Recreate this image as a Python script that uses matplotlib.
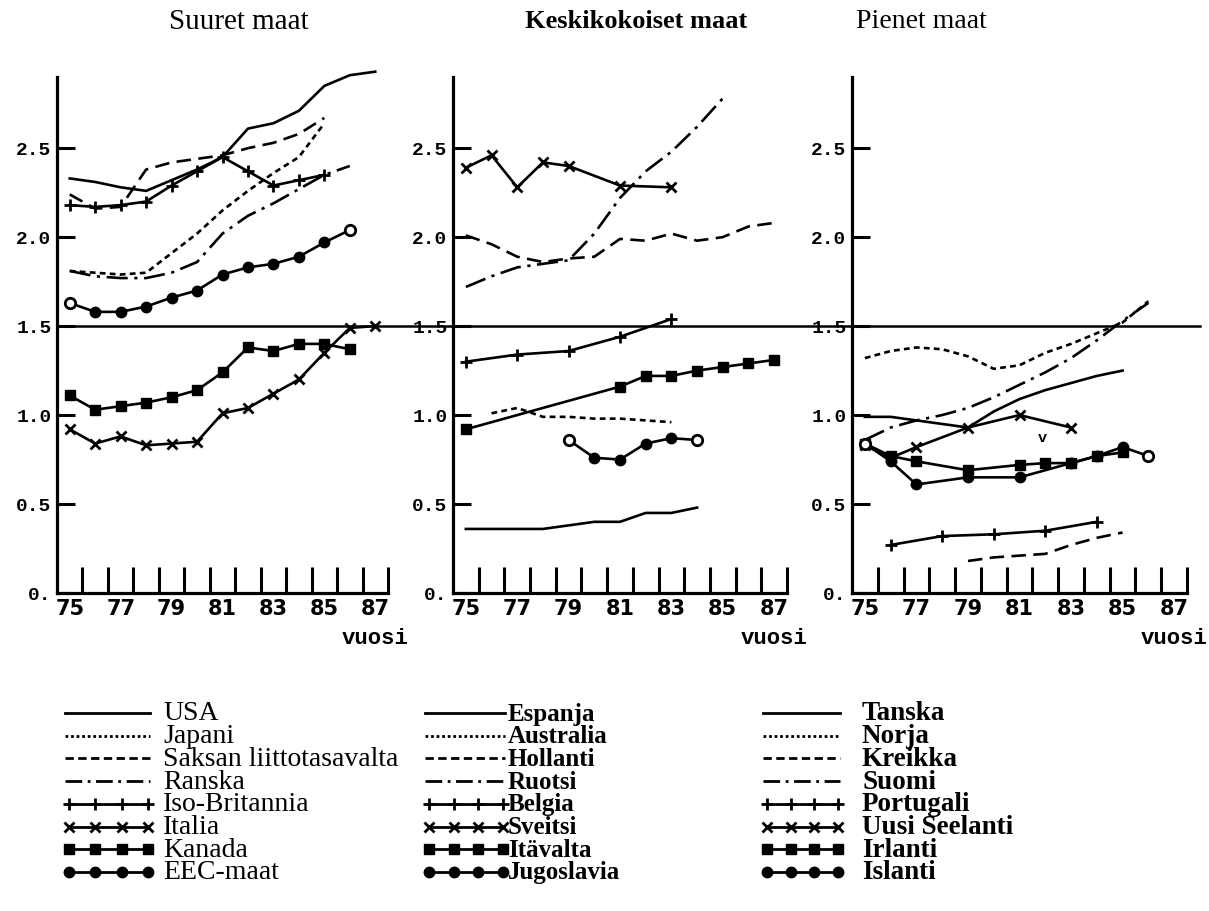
import matplotlib
matplotlib.use("Agg")
import matplotlib.pyplot as plt
import matplotlib.transforms as mtransforms
from matplotlib.lines import Line2D
import numpy as np

# ---------------- data ----------------
panel_titles = ["Suuret maat", "Keskikokoiset maat", "Pienet maat"]
x_tick_years = [75, 77, 79, 81, 83, 85, 87]
x_tick_labels = ["75", "77", "79", "81", "83", "85", "87"]
y_tick_vals = [0, 0.5, 1.0, 1.5, 2.0, 2.5]
y_tick_labels = ["0.", "0.5", "1.0", "1.5", "2.0", "2.5"]
x_label = "vuosi"

# Suuret maat
usa_x = [75, 76, 77, 78, 79, 80, 81, 82, 83, 84, 85, 86, 87]
usa_y = [2.33, 2.31, 2.28, 2.26, 2.32, 2.38, 2.45, 2.61, 2.64, 2.71, 2.85, 2.91, 2.93]
japani_x = [75, 76, 77, 78, 79, 80, 81, 82, 83, 84, 85]
japani_y = [1.81, 1.80, 1.79, 1.80, 1.91, 2.02, 2.15, 2.26, 2.36, 2.45, 2.64]
saksa_x = [75, 76, 77, 78, 79, 80, 81, 82, 83, 84, 85]
saksa_y = [2.24, 2.16, 2.17, 2.38, 2.42, 2.44, 2.46, 2.50, 2.53, 2.58, 2.67]
ranska_x = [75, 76, 77, 78, 79, 80, 81, 82, 83, 84, 85, 86]
ranska_y = [1.81, 1.78, 1.77, 1.77, 1.80, 1.86, 2.02, 2.12, 2.19, 2.27, 2.35, 2.40]
britannia_x = [75, 76, 77, 78, 79, 80, 81, 82, 83, 84, 85]
britannia_y = [2.18, 2.17, 2.18, 2.20, 2.29, 2.37, 2.45, 2.37, 2.29, 2.32, 2.35]
italia_x = [75, 76, 77, 78, 79, 80, 81, 82, 83, 84, 85, 86, 87]
italia_y = [0.92, 0.84, 0.88, 0.83, 0.84, 0.85, 1.01, 1.04, 1.12, 1.20, 1.35, 1.49, 1.50]
kanada_x = [75, 76, 77, 78, 79, 80, 81, 82, 83, 84, 85, 86]
kanada_y = [1.11, 1.03, 1.05, 1.07, 1.10, 1.14, 1.24, 1.38, 1.36, 1.40, 1.40, 1.37]
eec_x = [75, 76, 77, 78, 79, 80, 81, 82, 83, 84, 85, 86]
eec_y = [1.63, 1.58, 1.58, 1.61, 1.66, 1.70, 1.79, 1.83, 1.85, 1.89, 1.97, 2.04]

# Keskikokoiset maat
espanja_x = [75, 76, 77, 78, 79, 80, 81, 82, 83, 84]
espanja_y = [0.36, 0.36, 0.36, 0.36, 0.38, 0.40, 0.40, 0.45, 0.45, 0.48]
australia_x = [76, 77, 78, 79, 80, 81, 82, 83]
australia_y = [1.01, 1.04, 0.99, 0.99, 0.98, 0.98, 0.97, 0.96]
hollanti_x = [75, 76, 77, 78, 79, 80, 81, 82, 83, 84, 85, 86, 87]
hollanti_y = [2.01, 1.96, 1.89, 1.86, 1.88, 1.89, 1.99, 1.98, 2.02, 1.98, 2.00, 2.06, 2.08]
ruotsi_x = [75, 76, 77, 78, 79, 80, 81, 82, 83, 84, 85]
ruotsi_y = [1.72, 1.78, 1.83, 1.85, 1.87, 2.02, 2.22, 2.37, 2.48, 2.62, 2.78]
belgia_x = [75, 77, 79, 81, 83]
belgia_y = [1.30, 1.34, 1.36, 1.44, 1.54]
sveitsi_x = [75, 76, 77, 78, 79, 81, 83]
sveitsi_y = [2.39, 2.46, 2.28, 2.42, 2.40, 2.29, 2.28]
itavalta_x = [75, 81, 82, 83, 84, 85, 86, 87]
itavalta_y = [0.92, 1.16, 1.22, 1.22, 1.25, 1.27, 1.29, 1.31]
jugoslavia_x = [79, 80, 81, 82, 83, 84]
jugoslavia_y = [0.86, 0.76, 0.75, 0.84, 0.87, 0.86]

# Pienet maat
tanska_x = [75, 76, 77, 78, 79, 80, 81, 82, 83, 84, 85]
tanska_y = [0.99, 0.99, 0.97, 0.95, 0.93, 1.02, 1.09, 1.14, 1.18, 1.22, 1.25]
norja_x = [75, 76, 77, 78, 79, 80, 81, 82, 83, 84, 85, 86]
norja_y = [1.32, 1.36, 1.38, 1.37, 1.33, 1.26, 1.28, 1.35, 1.40, 1.46, 1.52, 1.64]
kreikka_x = [79, 80, 81, 82, 83, 84, 85]
kreikka_y = [0.18, 0.20, 0.21, 0.22, 0.27, 0.31, 0.34]
suomi_x = [75, 76, 77, 78, 79, 80, 81, 82, 83, 84, 85, 86]
suomi_y = [0.86, 0.93, 0.97, 1.00, 1.04, 1.10, 1.17, 1.24, 1.32, 1.42, 1.53, 1.63]
portugali_x = [76, 78, 80, 82, 84]
portugali_y = [0.27, 0.32, 0.33, 0.35, 0.40]
seelanti_x = [75, 76, 77, 79, 81, 83]
seelanti_y = [0.83, 0.76, 0.82, 0.93, 1.00, 0.93]
irlanti_x = [75, 76, 77, 79, 81, 82, 83, 84, 85]
irlanti_y = [0.84, 0.77, 0.74, 0.69, 0.72, 0.73, 0.73, 0.77, 0.79]
islanti_x = [75, 76, 77, 79, 81, 83, 84, 85, 86]
islanti_y = [0.84, 0.74, 0.61, 0.65, 0.65, 0.73, 0.77, 0.82, 0.77]

names_suuret = ["USA", "Japani", "Saksan liittotasavalta", "Ranska",
                "Iso-Britannia", "Italia", "Kanada", "EEC-maat"]
names_keski = ["Espanja", "Australia", "Hollanti", "Ruotsi",
               "Belgia", "Sveitsi", "Itävalta", "Jugoslavia"]
names_pienet = ["Tanska", "Norja", "Kreikka", "Suomi",
                "Portugali", "Uusi Seelanti", "Irlanti", "Islanti"]

series_suuret = [(usa_x, usa_y), (japani_x, japani_y), (saksa_x, saksa_y),
                 (ranska_x, ranska_y), (britannia_x, britannia_y),
                 (italia_x, italia_y), (kanada_x, kanada_y), (eec_x, eec_y)]
series_keski = [(espanja_x, espanja_y), (australia_x, australia_y),
                (hollanti_x, hollanti_y), (ruotsi_x, ruotsi_y),
                (belgia_x, belgia_y), (sveitsi_x, sveitsi_y),
                (itavalta_x, itavalta_y), (jugoslavia_x, jugoslavia_y)]
series_pienet = [(tanska_x, tanska_y), (norja_x, norja_y),
                 (kreikka_x, kreikka_y), (suomi_x, suomi_y),
                 (portugali_x, portugali_y), (seelanti_x, seelanti_y),
                 (irlanti_x, irlanti_y), (islanti_x, islanti_y)]

# ---------------- styles ----------------
LW = 1.9
style_list = [
    dict(linestyle="-"),
    dict(linestyle=(0, (2.2, 1.6))),
    dict(linestyle=(0, (5.5, 2.8))),
    dict(linestyle=(0, (8, 2.5, 1.2, 2.5))),
    dict(linestyle="-", marker="+", markersize=9, markeredgewidth=2.0),
    dict(linestyle="-", marker="x", markersize=7.5, markeredgewidth=2.0),
    dict(linestyle="-", marker="s", markersize=6.5),
    dict(linestyle="-", marker="o", markersize=7.5),
]
legend_dash = [None, (0, (1.0, 1.0)), (0, (3.0, 1.6)), (0, (6, 2.0, 1.0, 2.0)),
               None, None, None, None]

W, H = 1209, 911
fig = plt.figure(figsize=(W / 100, H / 100), dpi=100)
fig.patch.set_facecolor("white")

panel_px = [(57, 388), (453, 787), (852, 1187)]
bottom_px, top_px = 593, 77

mono_bold = dict(family=["Liberation Mono", "DejaVu Sans Mono"], weight="bold")
narrow_bold = dict(family=["Liberation Sans Narrow", "DejaVu Sans"], weight="bold")
serif = ["Liberation Serif", "DejaVu Serif"]

all_series = [series_suuret, series_keski, series_pienet]
axes = []
for i, (l, r) in enumerate(panel_px):
    ax = fig.add_axes([l / W, 1 - bottom_px / H, (r - l) / W, (bottom_px - top_px) / H])
    ax.set_facecolor("none")
    ax.set_xlim(74.5, 87.5)
    ax.set_ylim(0, 2.9)
    for s in ["top", "right"]:
        ax.spines[s].set_visible(False)
    for s in ["left", "bottom"]:
        ax.spines[s].set_linewidth(2.3)
    ax.set_yticks(y_tick_vals)
    ax.set_yticklabels(y_tick_labels, fontsize=14, **mono_bold)
    ax.tick_params(axis="y", direction="in", length=13, width=2.2, pad=4)
    ax.set_xticks(x_tick_years)
    ax.set_xticklabels(x_tick_labels, fontsize=15, **narrow_bold)
    ax.tick_params(axis="x", which="major", length=0, pad=4)
    ax.set_xticks(np.arange(75.5, 88.0, 1.0), minor=True)
    ax.tick_params(axis="x", which="minor", direction="in", length=19, width=2.2)
    ax.text(87.0, -0.088, x_label, transform=ax.get_xaxis_transform(),
            ha="center", va="center", fontsize=16, **mono_bold)

    for (xs, ys), st in zip(all_series[i], style_list):
        kw = dict(st)
        ax.plot(xs, ys, color="black", lw=LW, clip_on=False,
                markerfacecolor="black", markeredgecolor="black", **kw)
        if st.get("marker") == "o":
            ax.plot([xs[0], xs[-1]], [ys[0], ys[-1]], linestyle="none",
                    marker="o", markersize=7.5, markerfacecolor="white",
                    markeredgecolor="black", markeredgewidth=2.0, clip_on=False)
    axes.append(ax)

# stray mark in the small-country panel
axes[2].text(81.9, 0.87, "v", ha="center", va="center", fontsize=11, **mono_bold)

# long horizontal reference line at 1.5 across all panels
trans = mtransforms.blended_transform_factory(fig.transFigure, axes[0].transData)
fig.add_artist(Line2D([57 / W, 1200 / W], [1.5, 1.5], transform=trans,
                      color="black", lw=1.8))

# titles
title_pos = [239, 636, 921]
title_weight = ["normal", "bold", "normal"]
title_size = [21, 19, 20]
for t, xp, wt, fs in zip(panel_titles, title_pos, title_weight, title_size):
    fig.text(xp / W, 1 - 22 / H, t, ha="center", va="center",
             fontsize=fs, family=serif, weight=wt)

# legend (manual layout, three columns)
lax = fig.add_axes([0, 0, 1, 1])
lax.set_xlim(0, W)
lax.set_ylim(H, 0)
lax.axis("off")
lax.patch.set_alpha(0)

legend_cols = [
    (names_suuret, 65, 150, 163, "normal", 20),
    (names_keski, 425, 505, 508, "bold", 18),
    (names_pienet, 763, 840, 862, "bold", 19.5),
]
row0, row_step = 713, 22.7
for names, xa, xb, xt, wt, fs in legend_cols:
    for k, (name, st) in enumerate(zip(names, style_list)):
        y = row0 + k * row_step
        kw = dict(st)
        if legend_dash[k] is not None:
            kw["linestyle"] = legend_dash[k]
        if "marker" in kw:
            xs = np.linspace(xa + 4, xb - 2, 4)
        else:
            xs = np.array([xa, xb])
        lax.plot(xs, np.full_like(xs, y, dtype=float), color="black", lw=2.0,
                 markerfacecolor="black", markeredgecolor="black", **kw)
        lax.text(xt, y + 1, name, ha="left", va="center", fontsize=fs,
                 family=serif, weight=wt)

fig.savefig("out.png", dpi=100, facecolor="white")
